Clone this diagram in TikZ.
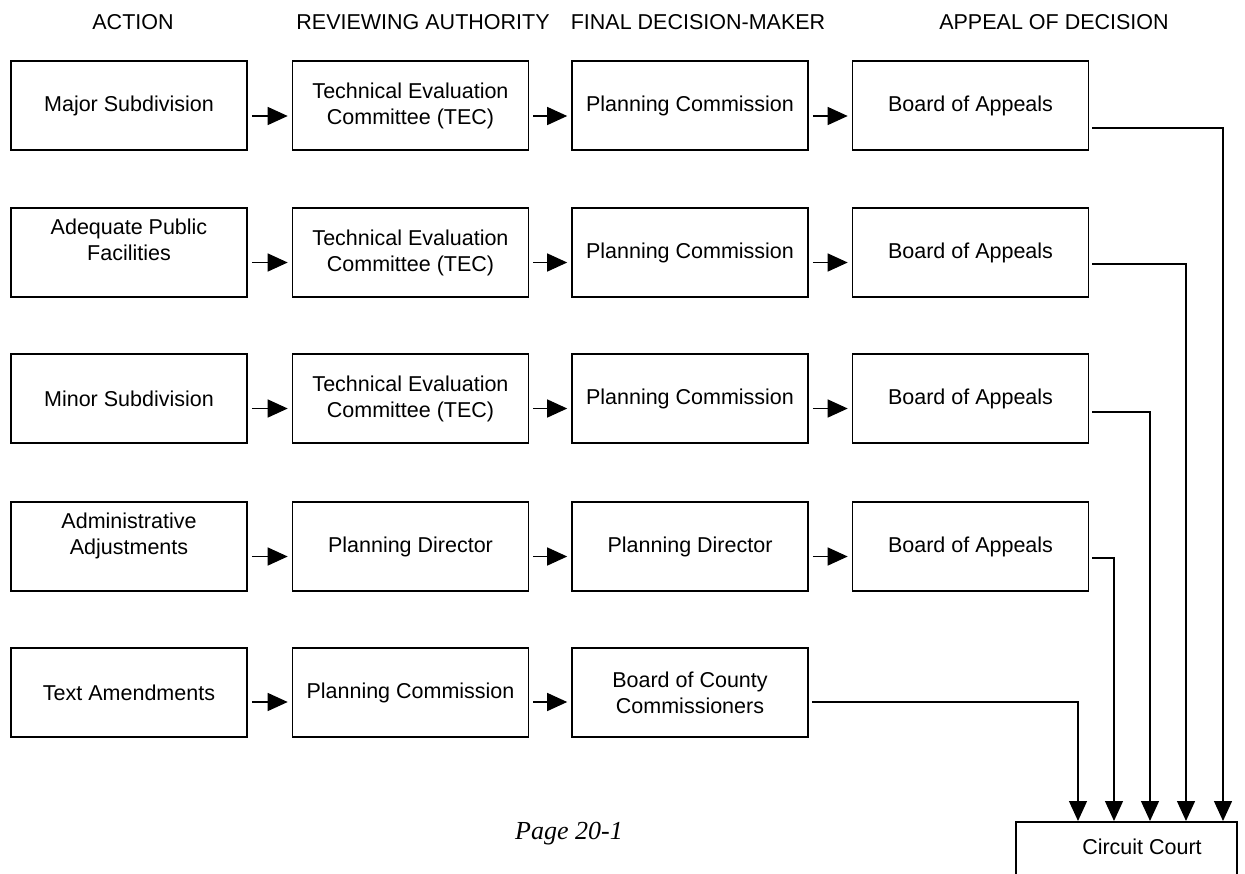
\documentclass[tikz,border=0pt]{standalone}
\usepackage{fontspec}
\setmainfont{Liberation Sans}
\newfontfamily\pagefont{Liberation Serif}
\usetikzlibrary{arrows.meta}

\begin{document}
\begin{tikzpicture}[x=1pt, y=-1pt,
    every node/.style = {font=\fontsize{21.5}{26}\selectfont},
    box/.style = {shape=rectangle, draw, line width=1.6pt, align=center,
      minimum width=236pt, minimum height=89pt, inner sep=0pt},
    raised/.style = {text depth=26pt},
    arr/.style = {-{Triangle[length=20pt,width=18pt]}, line width=1.3pt,
      shorten <=4pt, shorten >=4pt},
    tocourt/.style = {-{Triangle[length=20pt,width=18pt]}, line width=1.3pt,
      shorten <=3pt}]
    \useasboundingbox (0,0) rectangle (1245,873);

    % column heads
    \node (hAction) at (133,22) {ACTION};
    \node (hReview) at (423,22) {REVIEWING AUTHORITY};
    \node (hFinal) at (698,22) {FINAL DECISION-MAKER};
    \node (hAppeal) at (1054,22) {APPEAL OF DECISION};

    % rows
    \node[box] (act1) at (129,105.5) {Major Subdivision};
    \node[box] (rev1) at (410.5,105.5) {Technical Evaluation\\Committee (TEC)};
    \node[box] (fin1) at (690,105.5) {Planning Commission};
    \node[box] (app1) at (970.5,105.5) {Board of Appeals};

    \node[box, raised] (act2) at (129,252.5) {Adequate Public\\Facilities};
    \node[box] (rev2) at (410.5,252.5) {Technical Evaluation\\Committee (TEC)};
    \node[box] (fin2) at (690,252.5) {Planning Commission};
    \node[box] (app2) at (970.5,252.5) {Board of Appeals};

    \node[box] (act3) at (129,398.5) {Minor Subdivision};
    \node[box] (rev3) at (410.5,398.5) {Technical Evaluation\\Committee (TEC)};
    \node[box] (fin3) at (690,398.5) {Planning Commission};
    \node[box] (app3) at (970.5,398.5) {Board of Appeals};

    \node[box, raised] (act4) at (129,546.5) {Administrative\\Adjustments};
    \node[box] (rev4) at (410.5,546.5) {Planning Director};
    \node[box] (fin4) at (690,546.5) {Planning Director};
    \node[box] (app4) at (970.5,546.5) {Board of Appeals};

    \node[box] (act5) at (129,692.5) {Text Amendments};
    \node[box] (rev5) at (410.5,692.5) {Planning Commission};
    \node[box] (fin5) at (690,692.5) {Board of County\\Commissioners};

    % circuit court, cut off by the page edge
    \node[box, minimum width=221pt, minimum height=120pt, anchor=north] (court) at (1126.5,821) {};
    \node (courtText) at (1142,847) {Circuit Court};

    \node[font=\pagefont\itshape\fontsize{26}{30}\selectfont] (page) at (569,834) {Page 20-1};

    % arrows along the rows
    \draw[arr] ([yshift=-10.5pt]act1.east) -- ([yshift=-10.5pt]rev1.west);
    \draw[arr] ([yshift=-10.5pt]rev1.east) -- ([yshift=-10.5pt]fin1.west);
    \draw[arr] ([yshift=-10.5pt]fin1.east) -- ([yshift=-10.5pt]app1.west);

    \draw[arr] ([yshift=-10pt]act2.east) -- ([yshift=-10pt]rev2.west);
    \draw[arr] ([yshift=-10pt]rev2.east) -- ([yshift=-10pt]fin2.west);
    \draw[arr] ([yshift=-10pt]fin2.east) -- ([yshift=-10pt]app2.west);

    \draw[arr] ([yshift=-10pt]act3.east) -- ([yshift=-10pt]rev3.west);
    \draw[arr] ([yshift=-10pt]rev3.east) -- ([yshift=-10pt]fin3.west);
    \draw[arr] ([yshift=-10pt]fin3.east) -- ([yshift=-10pt]app3.west);

    \draw[arr] ([yshift=-10pt]act4.east) -- ([yshift=-10pt]rev4.west);
    \draw[arr] ([yshift=-10pt]rev4.east) -- ([yshift=-10pt]fin4.west);
    \draw[arr] ([yshift=-10pt]fin4.east) -- ([yshift=-10pt]app4.west);

    \draw[arr] ([yshift=-9.5pt]act5.east) -- ([yshift=-9.5pt]rev5.west);
    \draw[arr] ([yshift=-9.5pt]rev5.east) -- ([yshift=-9.5pt]fin5.west);

    % lines down to the court
    \coordinate (c1) at (1223,821);
    \coordinate (c2) at (1186,821);
    \coordinate (c3) at (1150,821);
    \coordinate (c4) at (1114,821);
    \coordinate (c5) at (1078,821);
    \draw[tocourt] ([yshift=-22.5pt]app1.east) -| (c1);
    \draw[tocourt] ([yshift=-11.5pt]app2.east) -| (c2);
    \draw[tocourt] ([yshift=-13.5pt]app3.east) -| (c3);
    \draw[tocourt] ([yshift=-11.5pt]app4.east) -| (c4);
    \draw[tocourt] ([yshift=-9.5pt]fin5.east) -| (c5);
\end{tikzpicture}
\end{document}
